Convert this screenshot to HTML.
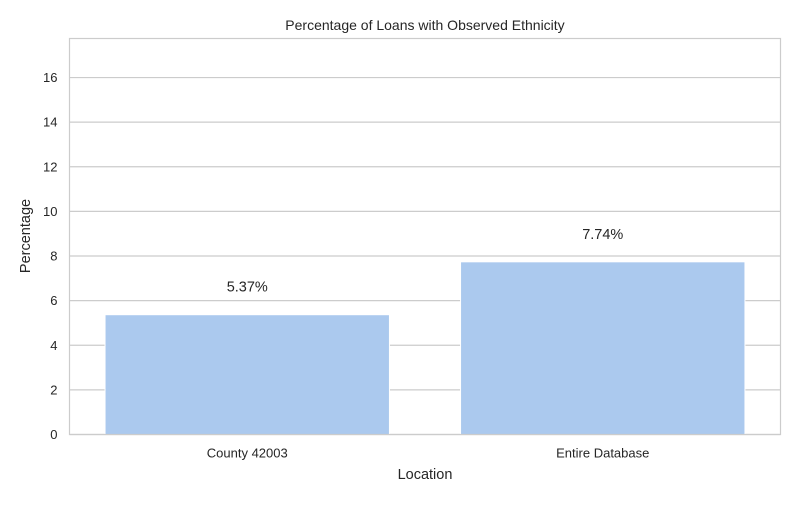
<!DOCTYPE html>
<html><head><meta charset="utf-8"><style>
body{margin:0;background:#fff;}
svg text{font-family:"Liberation Sans","DejaVu Sans",sans-serif;fill:#262626;}
</style></head><body>
<svg id="chart" width="800" height="500" xmlns="http://www.w3.org/2000/svg">
<rect width="800" height="500" fill="#fff"/>
<g id="grid"></g>
<g id="bars"></g>
<rect x="69.5" y="38.5" width="711" height="396" fill="none" stroke="#cccccc" stroke-width="1.2"/>
<g id="yticks"></g>
<g id="xticks"></g>
<text x="425" y="30" font-size="14" text-anchor="middle">Percentage of Loans with Observed Ethnicity</text>
<text x="425" y="479" font-size="14.5" text-anchor="middle">Location</text>
<text x="30" y="236" font-size="14.5" text-anchor="middle" transform="rotate(-90 30 236)">Percentage</text>
</svg>
<script>
const categories=["County 42003","Entire Database"];
const values=[5.37,7.74];
const valueLabels=["5.37%","7.74%"];
const yTicks=[0,2,4,6,8,10,12,14,16];
const L=69.5,R=780.5,T=38.5,B=434.5,yMax=17.75;
const y=v=>B-(v/yMax)*(B-T);
const band=(R-L)/categories.length;
const x=i=>L+band*(i+0.5);
const ns="http://www.w3.org/2000/svg";
function mk(tag,attrs,parent){const e=document.createElementNS(ns,tag);for(const k in attrs)e.setAttribute(k,attrs[k]);parent.appendChild(e);return e;}
const grid=document.getElementById('grid'),yt=document.getElementById('yticks'),xt=document.getElementById('xticks'),bars=document.getElementById('bars');
yTicks.forEach(t=>{
  const l=mk('line',{x1:L,x2:R,y1:y(t),y2:y(t),stroke:'#cccccc','stroke-width':1.2},grid);
  
  
  const tx=mk('text',{x:L-12,y:y(t)+4.5,'font-size':13,'text-anchor':'end'},yt);
  tx.textContent=t;
  
  
});
categories.forEach((c,i)=>{
  const w=band*0.8;
  const r=mk('rect',{x:x(i)-w/2,y:y(values[i]),width:w,height:B-y(values[i]),fill:'#abc9ee',stroke:'#fff','stroke-width':1},bars);
  
  
  const lb=mk('text',{x:x(i),y:y(values[i])-23,'font-size':14.5,'text-anchor':'middle'},bars);
  lb.textContent=valueLabels[i];
  
  
  const tx=mk('text',{x:x(i),y:B+23,'font-size':13,'text-anchor':'middle'},xt);
  tx.textContent=c;
  
  
});
</script>
</body></html>
